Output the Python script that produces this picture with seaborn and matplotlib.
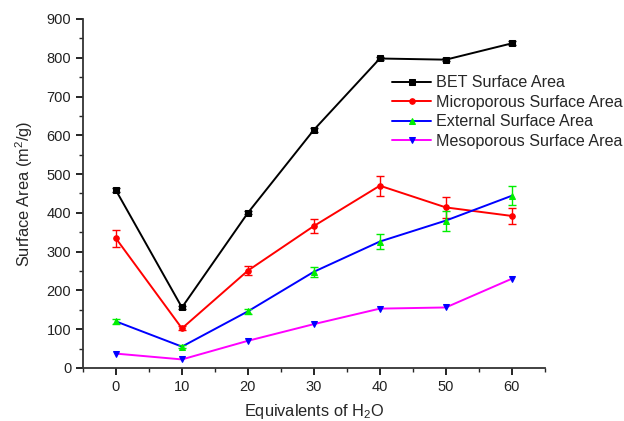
import matplotlib
matplotlib.use("Agg")
import matplotlib.pyplot as plt
import seaborn as sns
import numpy as np
from matplotlib.ticker import MultipleLocator

sns.set_style("ticks")
plt.rcParams['font.family'] = ['Liberation Sans', 'DejaVu Sans']
plt.rcParams['mathtext.default'] = 'regular'

equivalents = [0, 10, 20, 30, 40, 50, 60]
bet = [458, 156, 400, 614, 798, 795, 837]
bet_err = [5, 4, 4, 5, 5, 4, 5]
micro = [334, 102, 251, 366, 470, 414, 392]
micro_err = [22, 5, 12, 19, 26, 27, 20]
external = [120, 55, 146, 248, 326, 380, 444]
external_err = [7, 3, 6, 13, 19, 26, 24]
meso = [37, 22, 70, 113, 153, 156, 230]
meso_err = [0, 0, 0, 0, 0, 0, 0]

series = [
    ("BET Surface Area", bet, bet_err, "black", "black", "s"),
    ("Microporous Surface Area", micro, micro_err, "red", "red", "o"),
    ("External Surface Area", external, external_err, "blue", "#00ee00", "^"),
    ("Mesoporous Surface Area", meso, meso_err, "magenta", "blue", "v"),
]

fig = plt.figure(figsize=(6.24, 4.21), dpi=100)
ax = fig.add_axes([0.133, 0.126, 0.74, 0.829])

for name, vals, errs, lc, mc, mk in series:
    sns.lineplot(x=equivalents, y=vals, color=lc, marker=mk, markersize=4,
                 markerfacecolor=mc, markeredgecolor=mc, linewidth=1.4,
                 label=name, ax=ax)
    if any(errs):
        ax.errorbar(equivalents, vals, yerr=errs, fmt='none', ecolor=mc,
                    elinewidth=1.0, capsize=3, capthick=1.0)

ax.set_xlim(-5, 65)
ax.set_ylim(0, 900)
ax.xaxis.set_major_locator(MultipleLocator(10))
ax.xaxis.set_minor_locator(MultipleLocator(5))
ax.yaxis.set_major_locator(MultipleLocator(100))
ax.yaxis.set_minor_locator(MultipleLocator(50))
ax.tick_params(which='major', direction='out', length=5, width=1.2, labelsize=10.5, colors='black')
ax.tick_params(which='minor', direction='out', length=3, width=1.0)
for t in ax.get_xticklabels() + ax.get_yticklabels():
    t.set_color('#222222')
for s in ['top', 'right']:
    ax.spines[s].set_visible(False)
for s in ['left', 'bottom']:
    ax.spines[s].set_linewidth(1.3)
    ax.spines[s].set_color('#333333')

ax.set_xlabel("Equivalents of H$_2$O", fontsize=11.8, labelpad=6)
ax.set_ylabel("Surface Area (m$^2$/g)", fontsize=11.8, labelpad=8)

leg = ax.legend(loc='upper left', bbox_to_anchor=(0.655, 0.857), frameon=False,
                fontsize=11.6, handlelength=2.45, handletextpad=0.3, labelspacing=0.28,
                borderaxespad=0)

fig.savefig("out.png", dpi=100)
